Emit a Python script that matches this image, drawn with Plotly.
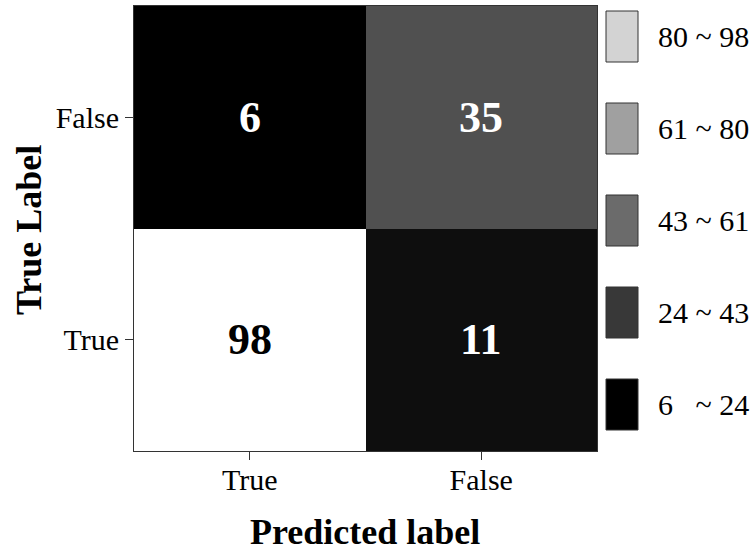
import plotly.graph_objects as go

# ---- data ----
pred_labels = ["True", "False"]          # x categories
true_labels = ["True", "False"]          # y categories (bottom to top)
z_values = [[98, 11],                    # true = True
            [6, 35]]                     # true = False
legend_labels = ["80 ~ 98", "61 ~ 80", "43 ~ 61", "24 ~ 43", "6\u00a0\u00a0\u00a0~ 24"]
legend_colors = ["#d3d3d3", "#a0a0a0", "#6b6b6b", "#383838", "#000000"]

W, H = 756, 551
FONT = "Liberation Serif, Times New Roman, serif"

zmin = min(min(r) for r in z_values)
zmax = max(max(r) for r in z_values)

fig = go.Figure(go.Heatmap(
    x=pred_labels, y=true_labels, z=z_values,
    colorscale=[[0, "#000000"], [1, "#ffffff"]],
    zmin=zmin, zmax=zmax, showscale=False, hoverinfo="skip",
))

annotations = []
for i, yl in enumerate(true_labels):
    for j, xl in enumerate(pred_labels):
        v = z_values[i][j]
        frac = (v - zmin) / (zmax - zmin)
        annotations.append(dict(
            x=xl, y=yl, xref="x", yref="y", text=f"<b>{v}</b>", showarrow=False,
            xanchor="center", yanchor="middle",
            font=dict(family=FONT, size=44, color="black" if frac > 0.5 else "white"),
        ))

# axis titles
annotations.append(dict(x=365 / W, y=1 - 532 / H, xref="paper", yref="paper",
                        text="<b>Predicted label</b>", showarrow=False,
                        xanchor="center", yanchor="middle",
                        font=dict(family=FONT, size=36, color="black")))
annotations.append(dict(x=29 / W, y=1 - 230 / H, xref="paper", yref="paper",
                        text="<b>True Label</b>", showarrow=False, textangle=-90,
                        xanchor="center", yanchor="middle",
                        font=dict(family=FONT, size=36, color="black")))

# legend swatches and labels
shapes = []
sw_top, sw_h, sw_step = 11, 51, 92
for k, (lab, col) in enumerate(zip(legend_labels, legend_colors)):
    y0 = sw_top + k * sw_step
    y1 = y0 + sw_h
    shapes.append(dict(type="rect", xref="paper", yref="paper",
                       x0=606 / W, x1=638 / W, y0=1 - y1 / H, y1=1 - y0 / H,
                       fillcolor=col, line=dict(color="#333333", width=1)))
    annotations.append(dict(x=656 / W, y=1 - (y0 + y1) / 2 / H, xref="paper", yref="paper",
                            text=lab, showarrow=False, xanchor="left", yanchor="middle",
                            font=dict(family=FONT, size=30, color="black")))

fig.update_layout(
    width=W, height=H,
    margin=dict(l=0, r=0, t=0, b=0),
    paper_bgcolor="white", plot_bgcolor="white",
    annotations=annotations, shapes=shapes,
    xaxis=dict(domain=[134 / W, 597 / W], type="category",
               showline=True, mirror=True, linecolor="#333333", linewidth=1,
               ticks="outside", ticklen=8, tickcolor="#333333",
               ticklabelstandoff=-6,
               tickfont=dict(family=FONT, size=30, color="black"),
               showgrid=False, zeroline=False, fixedrange=True),
    yaxis=dict(domain=[1 - 451 / H, 1 - 6 / H], type="category",
               showline=True, mirror=True, linecolor="#333333", linewidth=1,
               ticks="outside", ticklen=8, tickcolor="#333333",
               tickfont=dict(family=FONT, size=30, color="black"),
               showgrid=False, zeroline=False, fixedrange=True),
)

fig.write_html("out.html", config={"displayModeBar": False},
               post_script="document.body.style.margin='0';document.body.style.padding='0';")
